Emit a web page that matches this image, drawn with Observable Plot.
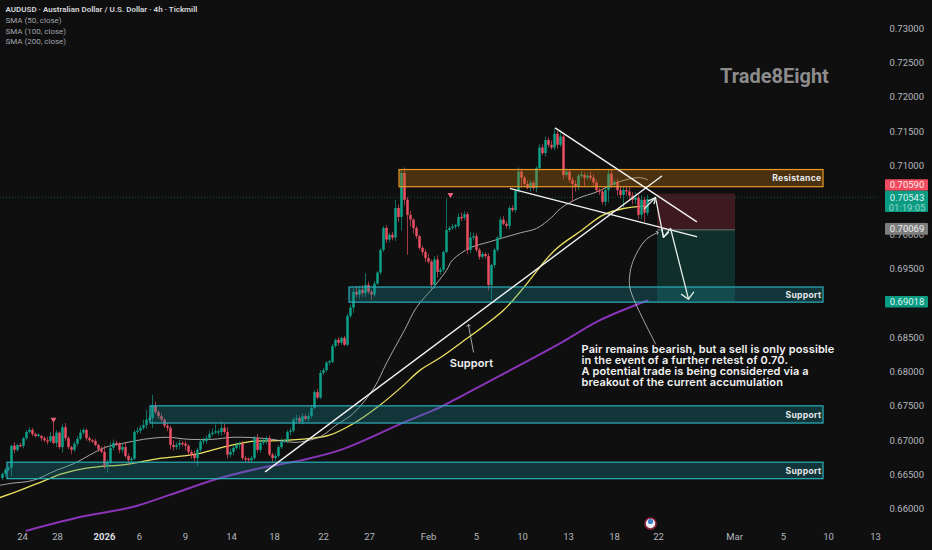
<!DOCTYPE html>
<html><head><meta charset="utf-8">
<style>
html,body{margin:0;padding:0;background:#0f0f0f;overflow:hidden}
svg{display:block}
.track text{letter-spacing:.12px}
.zone text{letter-spacing:.3px}
</style>
<script src="https://cdn.jsdelivr.net/npm/d3@7"></script>
<script src="https://cdn.jsdelivr.net/npm/@observablehq/plot@0.6"></script>
</head><body><script>
// Closing prices of the 4h candles, in 1/10000 (6651 = 0.6651)
const closes=[6651,6657,6660,6692,6686,6693,6692,6703,6712,6715,6709,6706,6706,6703,6700,6699,6706,6696,
6711,6690,6719,6703,6690,6686,6695,6702,6711,6715,6703,6700,6699,6693,6687,6683,6663,6668,6689,6696,6695,6686,6690,6677,6671,6673,6712,6714,6718,6722,6730,6732,6750,6741,6735,6730,6721,6718,6693,
6690,6693,6696,6695,6692,6683,6679,6674,6686,6698,6699,6703,6709,6711,6711,6712,6718,6712,6679,6683,6689,6693,6695,6674,6673,6671,6674,6703,6686,6696,6699,6703,6679,6674,6677,6690,6698,6700,6712,6714,6730,6732,6727,6735,6731,6735,6747,6770,6762,6798,6802,6813,6814,6837,6846,6842,6849,6839,6881,6893,
6916,6912,6919,6914,6926,6916,6912,6928,6944,6977,7009,6992,6999,6995,7038,7025,7089,7050,7028,7021,7009,6997,6980,6974,6965,6960,6926,6963,6945,6948,6974,7006,7009,7011,7012,7025,7024,7029,6977,6995,6997,6977,6967,6971,6968,6926,6955,6977,6995,7021,7015,7012,7038,7035,7063,7091,7082,7073,7067,7075,7067,7096,7126,7118,7137,7130,7126,7146,7130,7142,7086,7091,7079,7073,7070,7085,7086,7082,7085,7082,7075,7064,7062,7047,7064,7088,7072,7076,7064,7057,7064,7062,7056,7050,7053,7028,7050,7031,7051];
const wickUp=[2,3,2,1,5,2,3,2,3,4, 3,2,4,2,3,5,6,22,4,2, 4,6,3,2,3,4,5,3,2,3, 2,3,2,4,9,4,8,5,3,2, 5,7,4,3,3,5,4,8,14,4,
16,6,3,4,2,5,3,7,4,5, 3,4,2,3,6,3,4,5,4,5, 6,12,4,9,6,7,5,3,4,3, 4,3,2,3,3,6,5,4,3,4, 3,4,3,5,2,3,4,3,5,4,
4,3,5,4,3,5,4,3,2,3, 3,2,4,2,3,3,4,5,8,6, 7,17,5,3,4,2,2,3,4,3, 4,12,5,5,8,4,6,2,3,2, 3,4,6,3,5,6,4,2,46,3,
4,3,5,6,4,3,8,5,4,3, 3,2,4,2,3,2,4,5,4,3, 4,3,6,4,3,5,4,3,3,5, 5,5,4,6,8,4,6,3,4,3, 4,5,3,6,4,3,6,5,4,3,
4,5,7,5,4,5,6,5,4,6, 5,8,4,6,4,6];
const wickDown=[3,4,2,12,5,3,2,4,3,2, 3,2,2,4,3,5,3,2,6,3, 8,4,3,6,3,4,2,3,4,3, 3,2,4,2,5,10,3,4,3,5, 4,3,8,6,2,3,4,3,5,3,
14,3,4,3,3,5,6,5,4,6, 4,7,5,6,5,12,3,4,4,3, 3,2,4,5,3,6,4,5,3,6, 3,5,4,4,3,4,4,3,5,2, 6,4,3,3,2,4,5,3,4,3,
4,3,4,3,2,2,2,3,3,4, 2,3,4,3,2,2,3,8,4,6, 5,6,3,8,3,2,3,3,5,4, 4,5,7,20,8,58,10,8,4,3, 5,6,3,6,6,8,4,3,2,3,
3,4,3,5,4,6,5,4,3,4, 3,4,8,22,4,3,3,2,4,5, 3,4,3,14,4,2,5,3,6,3, 3,5,4,3,4,6,3,6,3,4, 26,8,6,4,12,3,4,6,3,5,
4,6,18,5,4,8,5,18,6,5, 7,6,6,6,13,4];

// Moving averages: [bar index, price in 1/10000]
const sma50=[[-1,6635],[3,6638],[10,6642],[18,6657],[24,6667],[29,6679],[34,6690],[40,6696],[47,6702],[55,6705],[62,6702],[70,6702],[77,6705],[88,6703],[96,6698],[99,6698],[106,6706],[111,6722],[117,6740],[124,6778],[128,6813],[134,6861],[138,6894],[144,6925],[148,6948],[150,6963],[156,6981],[162,6989],[165,6993],[173,7003],[178,7009],[183,7025],[186,7038],[192,7053],[198,7062],[205,7076],[212,7083],[215,7080]];
const sma100=[[-1,6617],[6,6628],[14,6642],[20,6652],[28,6660],[42,6666],[52,6674],[64,6680],[73,6690],[83,6699],[92,6700],[102,6703],[109,6708],[117,6725],[125,6749],[133,6778],[139,6802],[146,6821],[153,6843],[167,6890],[173,6919],[184,6977],[193,7006],[200,7028],[207,7038],[214,7041]];
const sma200=[[8,6569],[27,6590],[43,6603],[55,6620],[72,6645],[87,6661],[99,6671],[113,6687],[134,6727],[146,6749],[153,6765],[166,6795],[186,6842],[199,6875],[215,6904]];

// Drawings
const zoneNames=["Resistance","Support","Support","Support"];
const zoneFrom=[132.33,115.67,49.33,1.67];
const zoneTo=[273.67,273.67,273.67,273.67];
const zoneHigh=[7094,6923,6750,6668];
const zoneLow=[7069,6901,6725,6644];
const trendLines=[[[87.67,6655],[219.67,7085]],[[184.33,7155],[231.33,7019]],[[169.33,7067],[231.33,6997]]];
const forecastPath=[[214,7038],[217.67,7054],[220.33,6996],[222.67,7009],[228.67,6906]];
const forecastHeads=[[[215.3,7049],[217.67,7054],[217.2,7045]],[[219.67,7010],[220.33,6996],[222,7003]],[[226.33,6913],[228.67,6906],[230.33,6916]]];
const curvedArrow=[[217.67,6841],[209.33,6919],[209,6938],[210.33,6963],[214.33,6992],[218.33,7003]];
const supportArrow=[[157,6829],[155.33,6868]];
const positionLeft=218.33, positionRight=244.33;
const stopPrice=0.70590, entryPrice=0.70069, targetPrice=0.69018, lastPrice=0.70543;
const signalBars=[17,149.33];
const signalPips=[6731,7058];

// Axes (0.70500 and 0.69000 sit fully behind the price tags in the reference)
const priceTicks=[0.66,0.665,0.67,0.675,0.68,0.685,0.695,0.70,0.71,0.715,0.72,0.725,0.73];
const timeLabels=["24","28","2026","6","9","14","18","22","27","Feb","5","10","13","18","22","Mar","5","10","13"];
const timeBars=[6.67,18.33,34,45.67,61,76.33,90.67,107,122.33,142,158,173.33,188.67,204,218.67,244,260.33,275.33,291];

// Price tags in the right margin
const tagFrom=294.33, tagTo=308.67, tagMid=301.5;
const tagTop=[7080,7063,7016,6910];
const tagBottom=[7063,7032,6999,6893];
const tagColor=["#ef4a5e","#0b9a82","#7d7d7d","#0b9a82"];
const tagText=["0.70590","0.70543","01:19:05","0.70069","0.69018"];
const tagTextY=[7072,7054,7039,7008,6902];
const tagTextColor=["#ffe9ec","#dff5ef","#8fd8c8","#eeeeee","#dff5ef"];

const legend=["SMA (50, close)","SMA (100, close)","SMA (200, close)"];
const legendOffset=[17,28,38];
const note="Pair remains bearish, but a sell is only possible\nin the event of a further retest of 0.70.\nA potential trade is being considered via a\nbreakout of the current accumulation";

const P=v=>v/10000;
const candles=closes.map((c,i)=>{const o=i?closes[i-1]:c-6;return {i,o,c,hi:Math.max(o,c)+(wickUp[i]||0),lo:Math.min(o,c)-(wickDown[i]||0)}});
const up=candles.filter(d=>d.c>=d.o), down=candles.filter(d=>d.c<d.o);
const zones=zoneNames.map((name,k)=>({name,a:zoneFrom[k],b:zoneTo[k],h:zoneHigh[k],l:zoneLow[k]}));
const res=zones.filter(z=>z.name==="Resistance"), sup=zones.filter(z=>z.name==="Support");
const F="Inter, Roboto, sans-serif", R="Roboto, sans-serif";
const X=d=>d[0], Y=d=>P(d[1]);
const candleMarks=(data,col)=>[
  Plot.ruleX(data,{x:"i",y1:d=>P(d.lo),y2:d=>P(d.hi),stroke:col,strokeWidth:0.9,strokeOpacity:.75}),
  Plot.ruleX(data,{x:"i",y1:d=>P(d.o),y2:d=>P(Math.abs(d.c-d.o)<2?d.o+2*Math.sign(d.c-d.o||1):d.c),stroke:col,strokeWidth:2.5})
];
const zoneLabel=z=>Plot.text(z,{x:"b",y:d=>P((d.h+d.l)/2),text:"name",textAnchor:"end",dx:-2,fill:"#e6e8ec",fontSize:8.6,fontWeight:700,fontFamily:F,className:"zone"});

const chart=Plot.plot({
  width:932,height:550,marginLeft:0,marginTop:0,marginRight:53,marginBottom:20,
  style:{background:"#0f0f0f",overflow:"visible"},
  x:{domain:[-2/3,292.33]},
  y:{domain:[0.656929,0.734076]},
  marks:[
    Plot.axisY(priceTicks,{anchor:"right",tickSize:0,tickPadding:10,tickFormat:d3.format(".5f"),fill:"#b4b7bd",fontSize:9.5,fontFamily:R,label:null}),
    Plot.axisX(timeBars.filter((_,k)=>timeLabels[k]!=="2026"),{anchor:"bottom",tickSize:0,tickPadding:3,tickFormat:i=>timeLabels[timeBars.indexOf(i)],fill:"#b4b7bd",fontSize:9.5,fontFamily:R,label:null}),
    Plot.axisX(timeBars.filter((_,k)=>timeLabels[k]==="2026"),{anchor:"bottom",tickSize:0,tickPadding:3,tickFormat:()=>"2026",fill:"#dcdfe4",fontWeight:700,fontSize:9.5,fontFamily:R,label:null}),
    // position tool
    Plot.rect([0],{x1:positionLeft,x2:positionRight,y1:entryPrice,y2:stopPrice,fill:"#4a1c24",fillOpacity:.8}),
    Plot.rect([0],{x1:positionLeft,x2:positionRight,y1:targetPrice,y2:entryPrice,fill:"#10352f",fillOpacity:.85}),
    Plot.ruleY([entryPrice],{x1:positionLeft,x2:positionRight,stroke:"#8a8a8a",strokeWidth:.8}),
    Plot.ruleY([lastPrice],{stroke:"#0f4d40",strokeWidth:1,strokeDasharray:"1 2"}),
    // moving averages
    Plot.line(sma200,{x:X,y:Y,stroke:"#8a34b8",strokeWidth:2,curve:"catmull-rom"}),
    Plot.line(sma100,{x:X,y:Y,stroke:"#ece25f",strokeWidth:1.3,curve:"catmull-rom"}),
    Plot.line(sma50,{x:X,y:Y,stroke:"#b8b8b4",strokeWidth:.9,curve:"catmull-rom"}),
    // candles
    ...candleMarks(up,"#0ea088"),
    ...candleMarks(down,"#ea4f63"),
    Plot.dot(signalBars,{x:d=>d,y:(d,k)=>P(signalPips[k]),symbol:"triangle",r:2.2,rotate:180,fill:"#e8607a"}),
    // zones
    Plot.rect(sup,{x1:"a",x2:"b",y1:d=>P(d.l),y2:d=>P(d.h),fill:"#1b8f9b",fillOpacity:.3,stroke:"#2cb0bc",strokeWidth:1.2}),
    Plot.rect(res,{x1:"a",x2:"b",y1:d=>P(d.l),y2:d=>P(d.h),fill:"#c8780f",fillOpacity:.32,stroke:"#ec9a25",strokeWidth:1.2}),
    zoneLabel(res),zoneLabel(sup),
    // trend lines
    ...trendLines.map(t=>Plot.line(t,{x:X,y:Y,stroke:"#f2f2f2",strokeWidth:1.4})),
    // forecast arrows
    Plot.line(forecastPath,{x:X,y:Y,stroke:"#e4efe9",strokeWidth:1.3}),
    ...forecastHeads.map(t=>Plot.line(t,{x:X,y:Y,stroke:"#e4efe9",strokeWidth:1.3})),
    Plot.line(curvedArrow,{x:X,y:Y,stroke:"#c9c9c9",strokeWidth:.8,curve:"catmull-rom",markerEnd:"arrow"}),
    Plot.line(supportArrow,{x:X,y:Y,stroke:"#c9c9c9",strokeWidth:.8,markerEnd:"arrow"}),
    // annotation text
    Plot.text([note],{x:193,y:P(6809),text:d=>d,textAnchor:"start",lineAnchor:"middle",lineHeight:1,fill:"#f2f2f2",fontSize:11,fontWeight:600,fontFamily:F,className:"track"}),
    Plot.text(["Support"],{x:156.33,y:P(6813),text:d=>d,fill:"#f2f2f2",fontSize:11,fontWeight:600,fontFamily:F,className:"track"}),
    Plot.text(["Trade8Eight"],{x:257.3,y:P(7230),text:d=>d,fill:"#8c8c8c",fontSize:20,fontWeight:700,fontFamily:R}),
    // legend block
    Plot.text(["AUDUSD · Australian Dollar / U.S. Dollar · 4h · Tickmill"],{text:d=>d,frameAnchor:"top-left",dx:5,dy:6,fill:"#d6d8dd",fontSize:8,fontWeight:600,fontFamily:R}),
    ...legend.map((s,k)=>Plot.text([s],{text:d=>d,frameAnchor:"top-left",dx:5,dy:legendOffset[k],fill:"#a0a3aa",fontSize:8,fontFamily:R})),
    // event flag
    Plot.dot([216],{x:d=>d,frameAnchor:"bottom",dy:-7,r:5.5,fill:"#eceff4",stroke:"#8e2538",strokeWidth:1.6}),
    Plot.dot([216],{x:d=>d,frameAnchor:"bottom",dy:-9,r:2.6,fill:"#3f7fd0"}),
    // price tags
    Plot.rect(tagTop.map((t,k)=>k),{x1:tagFrom,x2:tagTo,y1:k=>P(tagBottom[k]),y2:k=>P(tagTop[k]),fill:k=>tagColor[k],rx:1}),
    Plot.text(tagText,{x:tagMid,y:(d,k)=>P(tagTextY[k]),text:d=>d,fill:(d,k)=>tagTextColor[k],fontSize:9.5,fontFamily:R})
  ]
});
document.body.appendChild(chart);
</script></body></html>
